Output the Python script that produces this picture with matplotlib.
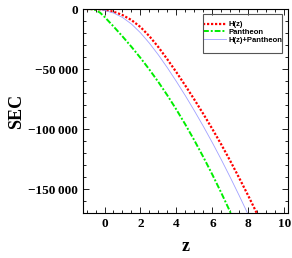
import matplotlib.pyplot as plt
from matplotlib.patches import Rectangle
from matplotlib.ticker import MultipleLocator, FuncFormatter

# values
z = [-1, -0.75, -0.5, -0.25, 0, 0.5, 1, 1.5, 2, 2.5, 3, 3.5, 4, 4.5, 5, 5.5,
     6, 6.5, 7, 7.5, 8, 8.5]
sec_hz = [0, 0, -100, -300, -700, -2200, -5000, -9200, -15000, -22700, -31800,
          -42000, -52700, -63900, -75500, -87500, -100000, -113000, -126700,
          -141000, -155700, -171000]
sec_pantheon = [0, -100, -800, -3000, -6500, -14500, -22800, -31500, -40700,
                -50500, -60900, -72000, -83800, -96300, -109500, -123400,
                -138000, -153300, -169300, -186000]
sec_joint = [0, 0, -150, -500, -1200, -3300, -7000, -12500, -19800, -28500,
             -38300, -49000, -60400, -72300, -84800, -97800, -111400, -125600,
             -140400, -155700, -171500]

fig = plt.figure(figsize=(2.92, 2.58), dpi=100)
ax = fig.add_axes([0.284, 0.174, 0.702, 0.791])

ax.plot(z[:len(sec_hz)], sec_hz, color='red', lw=1.6, ls=(0, (1, 0.8)), label='H(z)')
ax.plot(z[:len(sec_pantheon)], sec_pantheon, color='#00ee00', lw=1.4,
        ls=(0, (3, 1, 1, 1)), label='Pantheon')
ax.plot(z[:len(sec_joint)], sec_joint, color='#a0a0ff', lw=0.6, label='H(z)+Pantheon')

ax.set_xlim(-1.2, 10.2)
ax.set_ylim(-170000, 0)

ax.xaxis.set_major_locator(MultipleLocator(2))
ax.xaxis.set_minor_locator(MultipleLocator(0.5))
ax.yaxis.set_major_locator(MultipleLocator(50000))
ax.yaxis.set_minor_locator(MultipleLocator(10000))


def fmt(v, pos):
    if v == 0:
        return '0'
    s = f"{abs(int(v)):,}".replace(',', '\u2009')
    return ('\u2212' + s) if v < 0 else s


ax.yaxis.set_major_formatter(FuncFormatter(fmt))
ax.tick_params(which='both', direction='in', top=True, right=True, width=0.6)
ax.tick_params(which='major', length=4)
ax.tick_params(which='minor', length=2)
for lab in ax.get_xticklabels() + ax.get_yticklabels():
    lab.set_fontfamily('Liberation Serif')
    lab.set_fontweight('bold')
    lab.set_fontsize(9.5)
for sp in ax.spines.values():
    sp.set_linewidth(0.8)

ax.set_xlabel('z', fontfamily='Liberation Serif', fontweight='bold', fontsize=13, labelpad=6)
ax.set_ylabel('SEC', fontfamily='Liberation Serif', fontweight='bold', fontsize=13, labelpad=2)

# legend without its own frame, the box is drawn separately
leg = ax.legend(loc='upper left', bbox_to_anchor=(203 / 292, 1 - 21 / 258),
                bbox_transform=fig.transFigure, fontsize=5.5, frameon=False,
                handlelength=3.0, borderpad=0, borderaxespad=0,
                labelspacing=0.05, handletextpad=0.3)
for t in leg.get_texts():
    t.set_fontfamily('Liberation Sans')
    t.set_fontweight('bold')
fig.add_artist(Rectangle((203 / 292, 1 - 53 / 258), 79 / 292, 39 / 258,
                         transform=fig.transFigure, fill=False,
                         edgecolor='#555555', lw=0.8))

fig.savefig('out.png', dpi=100)
